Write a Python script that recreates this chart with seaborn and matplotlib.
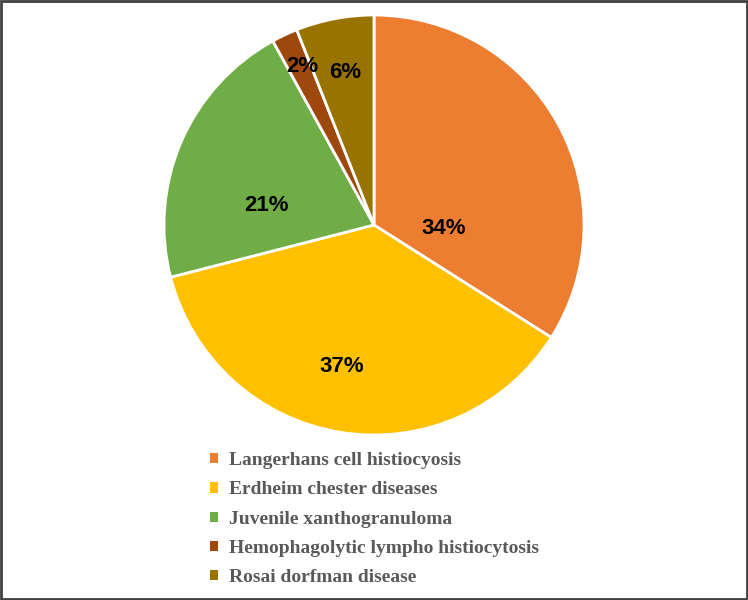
import matplotlib
matplotlib.use("Agg")
import numpy as np
import seaborn as sns
import matplotlib.pyplot as plt
from matplotlib.patches import Rectangle

# Data
categories = ['Langerhans cell histiocyosis', 'Erdheim chester diseases',
              'Juvenile xanthogranuloma', 'Hemophagolytic lympho histiocytosis',
              'Rosai dorfman disease']
shares = [34, 37, 21, 2, 6]
colors = ['#ED7D31', '#FFC000', '#70AD47', '#9E480E', '#997300']

# label placement (radius fraction, angle offset in degrees)
label_r = [0.33, 0.69, 0.52, 0.83, 0.74]
label_dtheta = [-32, -4, 13, -1, 0]

sns.set_theme(style='white')
palette = sns.color_palette(colors)

fig = plt.figure(figsize=(7.48, 6), dpi=100)
ax = fig.add_axes([(374 - 210) / 748, (600 - 435) / 600, 420 / 748, 420 / 600])

wedges, _ = ax.pie(shares, colors=palette, startangle=90, counterclock=False,
                   radius=1, wedgeprops=dict(edgecolor='white', linewidth=2))
ax.set_xlim(-1, 1)
ax.set_ylim(-1, 1)
ax.set_aspect('equal')

for w, v, r, dt in zip(wedges, shares, label_r, label_dtheta):
    mid = np.deg2rad((w.theta1 + w.theta2) / 2 + dt)
    ax.text(r * np.cos(mid), r * np.sin(mid), f'{v}%', ha='center', va='center',
            fontsize=16, fontweight='bold', family='Liberation Sans', color='black')

leg = fig.legend(wedges, categories, loc='center left',
                 bbox_to_anchor=(210 / 748, 1 - 519 / 600), frameon=False,
                 handlelength=0.42, handleheight=0.42, handletextpad=0.55,
                 labelspacing=0.62, borderpad=0, borderaxespad=0,
                 prop=dict(family='Liberation Serif', weight='bold', size=14))
for t in leg.get_texts():
    t.set_color('#595959')
for h in leg.legend_handles:
    h.set_edgecolor('none')

fig.patches.append(Rectangle((0.002, 0.002), 0.996, 0.996, transform=fig.transFigure,
                             fill=False, edgecolor='#404040', linewidth=2))

fig.savefig('out.png', dpi=100)
